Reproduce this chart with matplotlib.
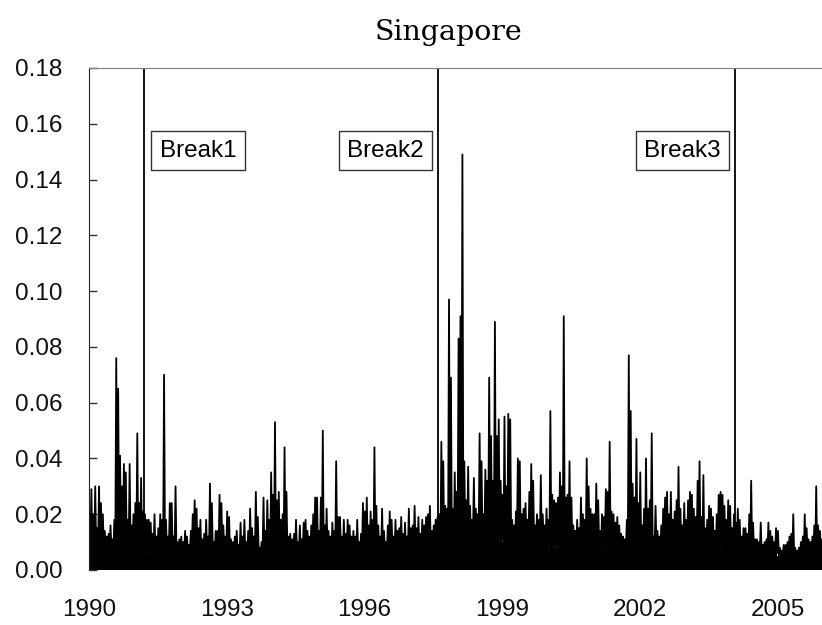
import numpy as np
import matplotlib
matplotlib.use("Agg")
import matplotlib.pyplot as plt

# absolute returns, 24 values per year (half-month steps)
vals_1990 = [0.020, 0.029, 0.020, 0.030, 0.015, 0.030, 0.024, 0.020, 0.014, 0.012, 0.013, 0.016,
             0.011, 0.018, 0.076, 0.065, 0.041, 0.030, 0.038, 0.035, 0.018, 0.038, 0.016, 0.020]
vals_1991 = [0.024, 0.049, 0.024, 0.033, 0.021, 0.020, 0.018, 0.018, 0.017, 0.013, 0.020, 0.012,
             0.015, 0.020, 0.018, 0.070, 0.018, 0.012, 0.024, 0.024, 0.012, 0.030, 0.010, 0.011]
vals_1992 = [0.012, 0.010, 0.014, 0.012, 0.009, 0.014, 0.020, 0.025, 0.022, 0.015, 0.018, 0.011,
             0.013, 0.018, 0.012, 0.031, 0.024, 0.010, 0.014, 0.014, 0.027, 0.024, 0.016, 0.012]
vals_1993 = [0.021, 0.019, 0.011, 0.010, 0.012, 0.014, 0.009, 0.017, 0.012, 0.018, 0.010, 0.014,
             0.022, 0.015, 0.012, 0.028, 0.019, 0.008, 0.010, 0.026, 0.014, 0.025, 0.018, 0.035]
vals_1994 = [0.027, 0.053, 0.025, 0.028, 0.018, 0.020, 0.044, 0.028, 0.012, 0.013, 0.011, 0.013,
             0.018, 0.010, 0.016, 0.011, 0.017, 0.018, 0.014, 0.012, 0.016, 0.020, 0.026, 0.026]
vals_1995 = [0.014, 0.026, 0.050, 0.016, 0.022, 0.014, 0.012, 0.017, 0.014, 0.039, 0.019, 0.019,
             0.012, 0.018, 0.013, 0.018, 0.016, 0.012, 0.014, 0.012, 0.018, 0.010, 0.013, 0.024]
vals_1996 = [0.021, 0.026, 0.016, 0.021, 0.018, 0.044, 0.023, 0.016, 0.012, 0.022, 0.014, 0.010,
             0.016, 0.021, 0.018, 0.012, 0.018, 0.014, 0.015, 0.019, 0.013, 0.017, 0.012, 0.022]
vals_1997 = [0.015, 0.016, 0.023, 0.015, 0.019, 0.013, 0.018, 0.016, 0.019, 0.020, 0.023, 0.014,
             0.016, 0.018, 0.019, 0.020, 0.046, 0.039, 0.023, 0.022, 0.097, 0.069, 0.022, 0.035]
vals_1998 = [0.028, 0.083, 0.091, 0.149, 0.039, 0.025, 0.037, 0.023, 0.018, 0.033, 0.022, 0.020,
             0.049, 0.039, 0.020, 0.036, 0.032, 0.069, 0.048, 0.032, 0.089, 0.048, 0.054, 0.032]
vals_1999 = [0.027, 0.055, 0.030, 0.056, 0.054, 0.018, 0.016, 0.021, 0.040, 0.039, 0.020, 0.022,
             0.024, 0.018, 0.028, 0.038, 0.032, 0.016, 0.020, 0.018, 0.034, 0.020, 0.016, 0.022]
vals_2000 = [0.018, 0.057, 0.027, 0.025, 0.024, 0.026, 0.035, 0.030, 0.091, 0.026, 0.027, 0.039,
             0.026, 0.016, 0.014, 0.018, 0.015, 0.026, 0.020, 0.018, 0.040, 0.030, 0.022, 0.020]
vals_2001 = [0.020, 0.031, 0.025, 0.014, 0.020, 0.019, 0.029, 0.028, 0.046, 0.021, 0.020, 0.017,
             0.019, 0.016, 0.013, 0.012, 0.011, 0.018, 0.077, 0.057, 0.031, 0.026, 0.047, 0.024]
vals_2002 = [0.035, 0.016, 0.022, 0.040, 0.022, 0.025, 0.049, 0.012, 0.023, 0.014, 0.012, 0.016,
             0.022, 0.026, 0.028, 0.020, 0.028, 0.018, 0.021, 0.025, 0.037, 0.022, 0.016, 0.024]
vals_2003 = [0.018, 0.025, 0.028, 0.027, 0.022, 0.019, 0.032, 0.039, 0.019, 0.034, 0.015, 0.018,
             0.023, 0.022, 0.019, 0.014, 0.020, 0.027, 0.028, 0.027, 0.023, 0.018, 0.025, 0.023]
vals_2004 = [0.015, 0.020, 0.017, 0.022, 0.018, 0.012, 0.015, 0.015, 0.013, 0.020, 0.032, 0.017,
             0.011, 0.011, 0.010, 0.017, 0.009, 0.010, 0.011, 0.017, 0.014, 0.012, 0.010, 0.015]
vals_2005 = [0.014, 0.008, 0.007, 0.009, 0.009, 0.010, 0.012, 0.013, 0.020, 0.008, 0.007, 0.008,
             0.010, 0.012, 0.020, 0.015, 0.011, 0.010, 0.012, 0.016, 0.030, 0.016, 0.014, 0.011]

# height of the solid dense band at the bottom, one per year
base_level = [0.007, 0.006, 0.006, 0.006, 0.006, 0.006, 0.006, 0.007,
              0.011, 0.010, 0.008, 0.008, 0.008, 0.007, 0.006, 0.005]

years = list(range(1990, 2006))
breaks = {"Break1": 1991.20, "Break2": 1997.60, "Break3": 2004.07}
year_ticks = [1990, 1993, 1996, 1999, 2002, 2005]


def main():
    values = np.concatenate([vals_1990, vals_1991, vals_1992, vals_1993, vals_1994, vals_1995,
                             vals_1996, vals_1997, vals_1998, vals_1999, vals_2000, vals_2001,
                             vals_2002, vals_2003, vals_2004, vals_2005])
    n = len(values)
    t = 1990 + (np.arange(n) + 0.5) / 24.0
    lows = np.repeat(base_level, 24)

    # zigzag between each half-month peak and the dense floor
    xs = np.empty(2 * n)
    ys = np.empty(2 * n)
    xs[0::2] = t - 1 / 96
    xs[1::2] = t + 1 / 96
    ys[0::2] = values
    ys[1::2] = lows

    fig = plt.figure(figsize=(8.22, 6.25), dpi=100)
    ax = fig.add_axes([89 / 822, 55 / 625, 733 / 822, 502 / 625])

    edges = np.array(years + [2006], dtype=float)
    ax.fill_between(edges, base_level + [base_level[-1]], step="post", color="black", lw=0)
    ax.plot(xs, ys, color="black", lw=1.3)

    for name, x in breaks.items():
        ax.axvline(x, color="black", lw=1.3)

    box = dict(boxstyle="square,pad=0.34", fc="white", ec="#333333", lw=1)
    label_font = "Liberation Sans"
    ax.text(1992.375, 0.1504, "Break1", ha="center", va="center", fontsize=17.5,
            family=label_font, bbox=box)
    ax.text(1996.457, 0.1504, "Break2", ha="center", va="center", fontsize=17.5,
            family=label_font, bbox=box)
    ax.text(2002.933, 0.1504, "Break3", ha="center", va="center", fontsize=17.5,
            family=label_font, bbox=box)

    ax.set_xlim(1990, 2005.97)
    ax.set_ylim(0, 0.18)
    ax.set_yticks(np.arange(0, 0.181, 0.02))
    ax.set_yticklabels([f"{v:.2f}" for v in np.arange(0, 0.181, 0.02)])
    ax.set_xticks(year_ticks)
    ax.set_xticklabels([str(y) for y in year_ticks])

    for lab in ax.get_xticklabels() + ax.get_yticklabels():
        lab.set_family("Liberation Sans")
        lab.set_fontsize(17.5)
        lab.set_color("#111111")
    ax.tick_params(axis="y", direction="in", length=6, width=1, color="#333333", pad=19)
    ax.tick_params(axis="x", length=0, pad=21)

    ax.spines["right"].set_visible(False)
    ax.spines["bottom"].set_visible(False)
    ax.spines["top"].set_color("#808080")
    ax.spines["left"].set_color("#222222")

    fig.text(0.546, 1 - 32 / 625, "Singapore", ha="center", va="center",
             family="DejaVu Serif", fontsize=20.5)

    fig.savefig("out.png", dpi=100)


if __name__ == "__main__":
    main()
